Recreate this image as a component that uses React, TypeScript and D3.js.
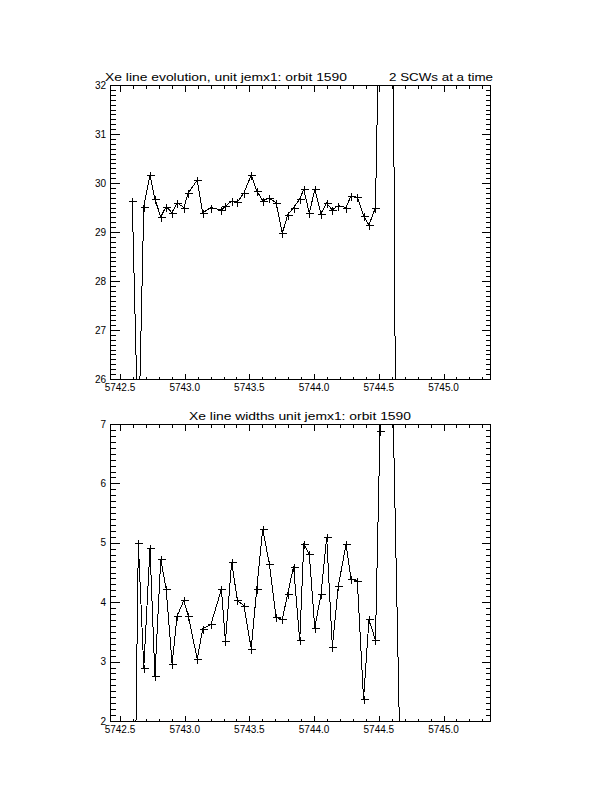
import React from 'react';
import * as d3 from 'd3';

// Time (days) of each pair of science windows
const times = [
  5742.595, 5742.642, 5742.684, 5742.732, 5742.770, 5742.815, 5742.857, 5742.903,
  5742.941, 5742.993, 5743.029, 5743.097, 5743.139, 5743.203, 5743.284, 5743.315,
  5743.363, 5743.407, 5743.458, 5743.514, 5743.557, 5743.603, 5743.654, 5743.706,
  5743.754, 5743.796, 5743.841, 5743.889, 5743.920, 5743.963, 5744.005, 5744.053,
  5744.097, 5744.141, 5744.187, 5744.247, 5744.285, 5744.334, 5744.382, 5744.424,
  5744.474, 5744.509, 5744.590, 5744.672,
];

// Xe line position (top panel)
const linePosition = [
  29.63, 24.55, 29.52, 30.16, 29.67, 29.31, 29.52, 29.39,
  29.60, 29.50, 29.80, 30.06, 29.39, 29.50, 29.45, 29.53,
  29.63, 29.61, 29.80, 30.16, 29.84, 29.64, 29.69, 29.60,
  28.97, 29.35, 29.50, 29.67, 29.87, 29.38, 29.87, 29.37,
  29.59, 29.45, 29.54, 29.50, 29.74, 29.71, 29.33, 29.14,
  29.50, 34.4, 42.5, 6.0,
];

// Xe line width (bottom panel)
const lineWidth = [
  -2.8, 4.99, 2.89, 4.91, 2.76, 4.72, 4.22, 2.96,
  3.76, 4.03, 3.76, 3.04, 3.55, 3.63, 4.22, 3.34,
  4.68, 4.03, 3.94, 3.22, 4.23, 5.23, 4.65, 3.75,
  3.71, 4.14, 4.60, 3.36, 4.98, 4.81, 3.57, 4.13,
  5.09, 3.25, 4.27, 4.98, 4.39, 4.36, 2.37, 3.71,
  3.36, 6.89, 9.4, 0.5,
];

const xTickLabels = ['5742.5', '5743.0', '5743.5', '5744.0', '5744.5', '5745.0'];
const topYTicks = [26, 27, 28, 29, 30, 31, 32];
const bottomYTicks = [2, 3, 4, 5, 6, 7];
const xDomain = [5742.423, 5745.359];
const topTitleLeft = 'Xe line evolution, unit jemx1: orbit 1590';
const topTitleRight = '2 SCWs at a time';
const bottomTitle = 'Xe line widths unit jemx1: orbit 1590';

const FONT = '"Liberation Sans", Arial, sans-serif';
const LEFT = 110;
const RIGHT = 490;

type PanelProps = {
  id: string;
  top: number;
  bottom: number;
  yTicks: number[];
  values: number[];
};

function Panel({ id, top, bottom, yTicks, values }: PanelProps) {
  const x = d3.scaleLinear().domain(xDomain).range([LEFT, RIGHT]);
  const yMin = yTicks[0];
  const yMax = yTicks[yTicks.length - 1];
  const y = d3.scaleLinear().domain([yMin, yMax]).range([bottom, top]);
  const px = (v: number) => Math.round(x(v)) + 0.5;
  const py = (v: number) => Math.round(y(v)) + 0.5;

  const xMajor = xTickLabels.map(Number);
  const xMinor = d3
    .range(0, 40)
    .map((i) => +(5742.0 + i * 0.1).toFixed(1))
    .filter((v) => v >= xDomain[0] && v <= xDomain[1] && !xMajor.some((m) => Math.abs(m - v) < 1e-6));
  const yMinor = d3
    .range(0, Math.round((yMax - yMin) * 10) + 1)
    .map((i) => +(yMin + i * 0.1).toFixed(1))
    .filter((v) => !yTicks.some((m) => Math.abs(m - v) < 1e-6));

  const pts = times.map((t, i) => [x(t), y(values[i])] as [number, number]);
  const line = d3.line<[number, number]>().x((d) => d[0]).y((d) => d[1]);

  const L = LEFT + 0.5;
  const R = RIGHT + 0.5;
  const T = top + 0.5;
  const B = bottom + 0.5;

  const tickPaths: string[] = [];
  xMajor.forEach((v) => {
    const xx = px(v);
    tickPaths.push(`M${xx},${B}V${B - 6}`);
    tickPaths.push(`M${xx},${T}V${T + 6}`);
  });
  xMinor.forEach((v) => {
    const xx = px(v);
    tickPaths.push(`M${xx},${B}V${B - 3}`);
    tickPaths.push(`M${xx},${T}V${T + 3}`);
  });
  yTicks.forEach((v) => {
    const yy = py(v);
    tickPaths.push(`M${L},${yy}H${L + 9}`);
    tickPaths.push(`M${R},${yy}H${R - 9}`);
  });
  yMinor.forEach((v) => {
    const yy = py(v);
    tickPaths.push(`M${L},${yy}H${L + 5}`);
    tickPaths.push(`M${R},${yy}H${R - 5}`);
  });

  const ms = 4;
  const markers = pts
    .map(([a, b]) => {
      const xa = Math.round(a) + 0.5;
      const yb = Math.round(b) + 0.5;
      return `M${xa - ms},${yb}H${xa + ms}M${xa},${yb - ms}V${yb + ms}`;
    })
    .join('');

  return (
    <g>
      <defs>
        <clipPath id={id}>
          <rect x={LEFT} y={top} width={RIGHT - LEFT + 1} height={bottom - top + 1} />
        </clipPath>
      </defs>
      <g clipPath={`url(#${id})`}>
        <path d={line(pts) || ''} fill="none" stroke="#000" strokeWidth={1} shapeRendering="crispEdges" />
        <path d={markers} fill="none" stroke="#000" strokeWidth={1} shapeRendering="crispEdges" />
      </g>
      <rect x={L} y={T} width={RIGHT - LEFT} height={bottom - top} fill="none" stroke="#000" strokeWidth={1} shapeRendering="crispEdges" />
      <path d={tickPaths.join('')} stroke="#000" strokeWidth={1} fill="none" shapeRendering="crispEdges" />
      {xTickLabels.map((s) => (
        <text key={s} x={x(+s)} y={bottom + 12} textAnchor="middle" fontFamily={FONT} fontSize={10} fill="#000">
          {s}
        </text>
      ))}
      {yTicks.map((v) => (
        <text key={v} x={106} y={y(v) + 3.5} textAnchor="end" fontFamily={FONT} fontSize={10} fill="#000">
          {v}
        </text>
      ))}
    </g>
  );
}

export default function App() {
  return (
    <svg
      width={612}
      height={792}
      viewBox="0 0 612 792"
      style={{ position: 'absolute', left: 0, top: 0, background: '#fff' }}
    >
      <rect x={0} y={0} width={612} height={792} fill="#fff" />
      <text x={105} y={80.5} fontFamily={FONT} fontSize={11} textLength={242} lengthAdjust="spacingAndGlyphs" fill="#000">
        {topTitleLeft}
      </text>
      <text x={389} y={80.5} fontFamily={FONT} fontSize={11} textLength={104} lengthAdjust="spacingAndGlyphs" fill="#000">
        {topTitleRight}
      </text>
      <Panel id="clipTop" top={85} bottom={379} yTicks={topYTicks} values={linePosition} />
      <text x={189} y={420} fontFamily={FONT} fontSize={11} textLength={222} lengthAdjust="spacingAndGlyphs" fill="#000">
        {bottomTitle}
      </text>
      <Panel id="clipBottom" top={424} bottom={721} yTicks={bottomYTicks} values={lineWidth} />
    </svg>
  );
}
